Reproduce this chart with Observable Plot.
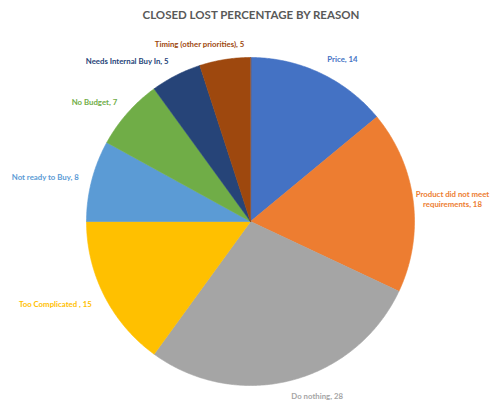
<!DOCTYPE html>
<html>
<head>
<meta charset="utf-8">
<script src="https://cdn.jsdelivr.net/npm/d3@7"></script>
<script src="https://cdn.jsdelivr.net/npm/@observablehq/plot@0.6"></script>
<style>
  html, body { margin: 0; padding: 0; background: #fff; overflow: hidden; }
  #chart svg { display: block; }
</style>
</head>
<body>
<div id="chart"></div>
<script>
const title = "CLOSED LOST PERCENTAGE BY REASON";
const reasons = [
  "Price",
  "Product did not meet requirements",
  "Do nothing",
  "Too Complicated ",
  "Not ready to Buy",
  "No Budget",
  "Needs Internal Buy In",
  "Timing (other priorities)"
];
const values = [14, 18, 28, 15, 8, 7, 5, 5];
const colors = ["#4472C4", "#ED7D31", "#A5A5A5", "#FFC000", "#5B9BD5", "#70AD47", "#264478", "#9E480E"];
// small horizontal nudges for labels Excel moved off the radial spot (px)
const labelNudge = [0, 23, -4, 2, 3, 2, 0, 22];

const total = d3.sum(values);
let acc = 0;
const slices = reasons.map((r, i) => {
  const a0 = acc / total * 2 * Math.PI;
  acc += values[i];
  const a1 = acc / total * 2 * Math.PI;
  const ring = [[0, 0]];
  const n = Math.max(2, Math.ceil((a1 - a0) / (Math.PI / 360)));
  for (let k = 0; k <= n; k++) {
    const t = a0 + (a1 - a0) * k / n;
    ring.push([Math.sin(t), Math.cos(t)]);
  }
  ring.push([0, 0]);
  const mid = (a0 + a1) / 2;
  let text = `${r}, ${values[i]}`;
  let wrapped = false;
  if (text.length > 30) {
    const words = text.split(" ");
    let line = "", lines = [];
    for (const w of words) {
      if ((line + " " + w).trim().length > 20 && line) { lines.push(line); line = w; }
      else line = (line + " " + w).trim();
    }
    lines.push(line);
    text = lines.join("\n");
    wrapped = true;
  }
  return {
    type: "Feature",
    properties: {reason: r, value: values[i], color: colors[i]},
    geometry: {type: "Polygon", coordinates: [ring]},
    lx: Math.sin(mid) * 1.1,
    ly: Math.cos(mid) * 1.1,
    anchor: wrapped ? "middle" : (Math.sin(mid) >= 0 ? "start" : "end"),
    text,
    color: colors[i],
    nudge: labelNudge[i]
  };
});

const W = 491, H = 410;
const labelFont = "Lato, 'Liberation Sans', sans-serif";

const marks = [
  Plot.geo(slices, {fill: d => d.properties.color, stroke: d => d.properties.color, strokeWidth: 0.6}),
  Plot.text([title], {
    frameAnchor: "top", lineAnchor: "middle", dx: 5, dy: 15, text: d => d,
    fontFamily: labelFont, fontWeight: "bold", fontSize: 11.5, fill: "#595959"
  })
];
for (const s of slices) {
  marks.push(Plot.text([s], {
    x: "lx", y: "ly", text: "text", textAnchor: s.anchor, lineAnchor: "middle",
    dx: s.nudge, fill: s.color, fontFamily: labelFont, fontWeight: "bold",
    fontSize: 7.8, lineHeight: 1.3, clip: false
  }));
}

const chart = Plot.plot({
  width: W,
  height: H,
  margin: 0,
  projection: {
    type: "reflect-y",
    domain: {type: "MultiPoint", coordinates: [[-1, -1], [1, 1]]},
    insetTop: 57,
    insetLeft: 86,
    insetRight: 77,
    insetBottom: 25
  },
  style: {background: "#fff", overflow: "hidden"},
  marks
});
document.getElementById("chart").appendChild(chart);
</script>
</body>
</html>
